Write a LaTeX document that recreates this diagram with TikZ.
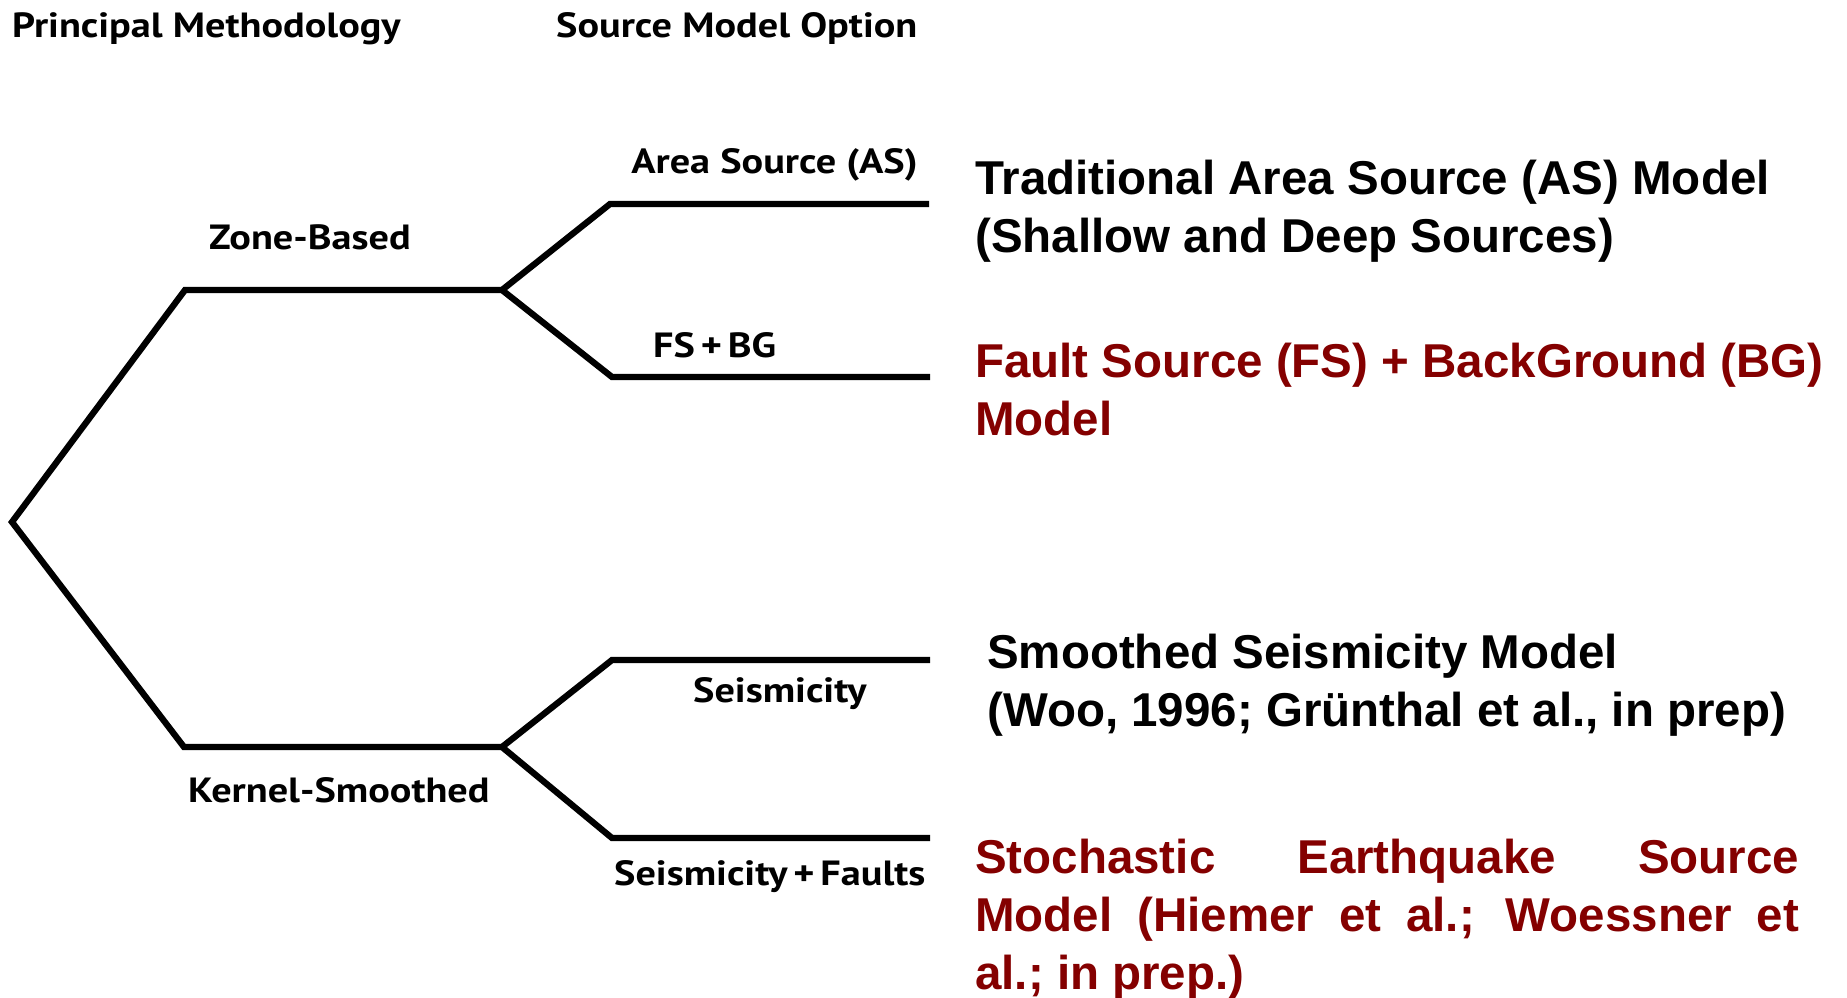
\documentclass[tikz,border=0pt]{standalone}
\usepackage{fontspec}
\setmainfont{Liberation Sans}
\newfontfamily\labfont[FakeStretch=1.15]{PT Sans}
\definecolor{darkred}{RGB}{132,0,0}
\tikzset{
  branch/.style={line width=6.3pt, line join=miter, line cap=butt, black},
  lab/.style={inner sep=0pt, font=\labfont\bfseries\fontsize{35}{40}\selectfont},
  desc/.style={inner sep=0pt, anchor=base west, font=\bfseries\fontsize{47.5}{58}\selectfont},
}
\begin{document}
\begin{tikzpicture}[x=1pt,y=-1pt]
\useasboundingbox (0,0) rectangle (1847,997);
% headings
\node[lab, anchor=base west] (hpm) at (12,37) {Principal Methodology};
\node[lab, anchor=base west] (hsm) at (556,37) {Source Model Option};
% tree points
\coordinate (root) at (12,522);
\coordinate (zb1) at (185,290);
\coordinate (zb2) at (502,290);
\coordinate (as1) at (610,204);
\coordinate (as2) at (929,204);
\coordinate (fs1) at (612,377);
\coordinate (fs2) at (930,377);
\coordinate (ks1) at (184,747);
\coordinate (ks2) at (502,747);
\coordinate (se1) at (612,660);
\coordinate (se2) at (930,660);
\coordinate (sf1) at (612,838);
\coordinate (sf2) at (930,838);
% branches
\draw[branch] (zb2) -- (zb1) -- (root) -- (ks1) -- (ks2);
\draw[branch] (as2) -- (as1) -- (zb2) -- (fs1) -- (fs2);
\draw[branch] (se2) -- (se1) -- (ks2) -- (sf1) -- (sf2);
% branch labels
\node[lab, anchor=base east] (las) at (918,173) {Area Source (AS)};
\node[lab, anchor=base west] (lzb) at (209,249) {Zone-Based};
\node[lab, anchor=base west] (lfs) at (653,357) {FS\,+\,BG};
\node[lab, anchor=base west] (lse) at (693,702) {Seismicity};
\node[lab, anchor=base west] (lks) at (188,802) {Kernel-Smoothed};
\node[lab, anchor=base west] (lsf) at (614,885) {Seismicity\,+\,Faults};
% descriptions
\node[desc] (das) at (975,194) {\parbox[t]{860pt}{Traditional Area Source (AS) Model\\(Shallow and Deep Sources)}};
\node[desc, text=darkred] (dfs) at (975,377) {\parbox[t]{870pt}{Fault Source (FS) + BackGround (BG)\\Model}};
\node[desc] (dse) at (987,668) {\parbox[t]{860pt}{Smoothed Seismicity Model\\(Woo, 1996; Gr\"unthal et al., in prep)}};
\node[desc, text=darkred] (dsf) at (975,873) {\parbox[t]{824pt}{\hbadness=10000 Stochastic Earthquake Source\linebreak Model (Hiemer et al.; Woessner et\linebreak al.; in prep.)}};
\end{tikzpicture}
\end{document}
